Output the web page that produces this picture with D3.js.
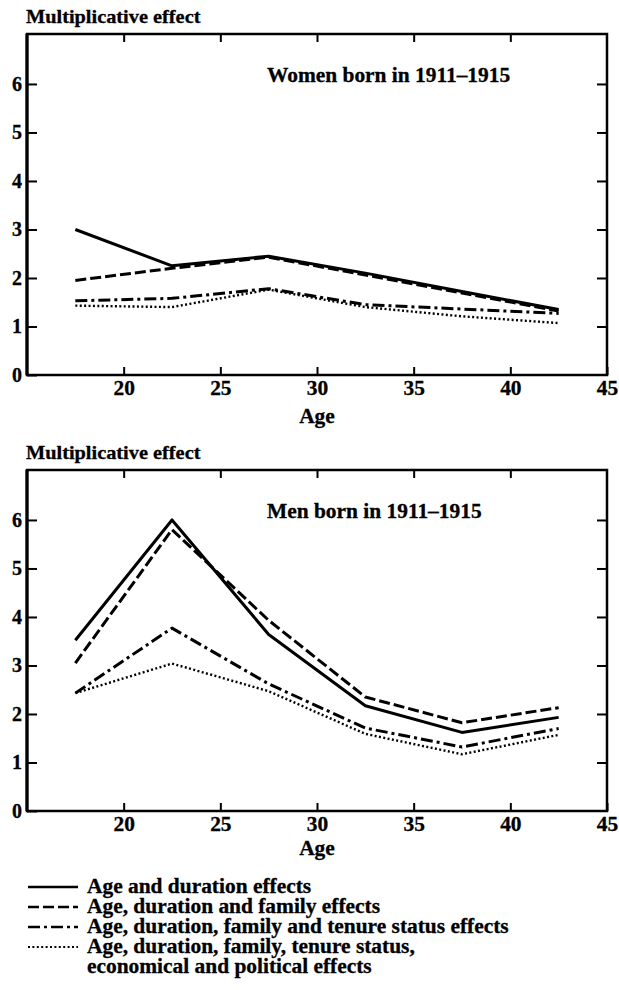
<!DOCTYPE html>
<html>
<head>
<meta charset="utf-8">
<title>Multiplicative effect by age</title>
<script src="https://cdn.jsdelivr.net/npm/d3@7"></script>
<style>
  body { margin: 0; background: #fff; }
  text { font-family: "Liberation Serif", "Times New Roman", serif; font-weight: bold; fill: #000;
         stroke: #000; stroke-width: 0.3px; }
  .tick line { stroke: #000; stroke-width: 2; }
  .domain { display: none; }
</style>
</head>
<body>
<script>
// data
const ages = [17.5, 22.5, 27.5, 32.5, 37.5, 42.5]
const xTicks = [20, 25, 30, 35, 40, 45]
const yTicks = [0, 1, 2, 3, 4, 5, 6]

const womenAgeDur       = [3.00, 2.25, 2.45, 2.10, 1.72, 1.35]
const womenAgeDurFam    = [1.95, 2.20, 2.43, 2.06, 1.69, 1.32]
const womenAgeDurFamTen = [1.53, 1.58, 1.78, 1.45, 1.36, 1.27]
const womenAll          = [1.43, 1.40, 1.76, 1.40, 1.21, 1.07]

const menAgeDur       = [3.52, 6.00, 3.64, 2.17, 1.62, 1.93]
const menAgeDurFam    = [3.05, 5.80, 3.93, 2.35, 1.82, 2.13]
const menAgeDurFamTen = [2.43, 3.77, 2.62, 1.71, 1.32, 1.70]
const menAll          = [2.43, 3.04, 2.47, 1.59, 1.17, 1.57]

const legendLabels = [
  "Age and duration effects",
  "Age, duration and family effects",
  "Age, duration, family and tenure status effects",
  "Age, duration, family, tenure status,",
  "economical and political effects"
]

const dashes = [null, "11,4", "12,4,3,4", "2,2.4"]
const widths = [3, 3, 3, 2.4]

const w = 619, h = 990
const plotH = 341
const x = d3.scaleLinear().domain([15, 45]).range([27, 607])

const svg = d3.select("body").append("svg")
  .attr("width", w).attr("height", h)

// scanned type is Times bold, a little wider than normal
const stretch = (sel, k) => sel.each(function() {
  const len = this.getComputedTextLength()
  d3.select(this).attr("textLength", len * k).attr("lengthAdjust", "spacingAndGlyphs")
})

const drawPanel = (top, title, series, ageGap) => {
  const y = d3.scaleLinear().domain([0, 7.03]).range([top + plotH, top])
  const g = svg.append("g")
  const y0 = y(0)

  g.append("text")
    .attr("x", 26).attr("y", top - 11)
    .style("font-size", "19px")
    .text("Multiplicative effect")
    .call(stretch, 1.07)

  g.append("g").attr("transform", `translate(${x.range()[0]},0)`)
    .call(d3.axisLeft(y).tickValues(yTicks).tickSize(-10).tickPadding(5).tickFormat(d3.format("d")))
    .selectAll("text").style("font-size", "20px").attr("fill", "#000")

  g.append("g").attr("transform", `translate(${x.range()[1]},0)`)
    .call(d3.axisRight(y).tickValues(yTicks.slice(1)).tickSize(-10).tickFormat(""))

  g.append("g").attr("transform", `translate(0,${y0})`)
    .call(d3.axisBottom(x).tickValues(xTicks).tickSize(-8).tickPadding(6).tickFormat(d3.format("d")))
    .selectAll("text").style("font-size", "20px").attr("fill", "#000")
    .call(stretch, 1.07)

  g.append("g").attr("transform", `translate(0,${top})`)
    .call(d3.axisTop(x).tickValues(xTicks.slice(0, 5)).tickSize(-8).tickFormat(""))

  g.append("rect")
    .attr("x", x.range()[0]).attr("y", top)
    .attr("width", x.range()[1] - x.range()[0]).attr("height", y0 - top)
    .attr("fill", "none").attr("stroke", "#000").attr("stroke-width", 2.5)

  g.append("line")
    .attr("x1", x.range()[0]).attr("x2", x.range()[0])
    .attr("y1", top).attr("y2", y0)
    .attr("stroke", "#000").attr("stroke-width", 3.2)

  g.append("text")
    .attr("x", (x.range()[0] + x.range()[1]) / 2).attr("y", y0 + ageGap)
    .attr("text-anchor", "middle")
    .style("font-size", "20px")
    .text("Age")
    .call(stretch, 1.07)

  g.append("text")
    .attr("x", 267).attr("y", top + 48)
    .style("font-size", "20px")
    .text(title)
    .call(stretch, 1.07)

  const line = d3.line()
    .x((d, i) => x(ages[i]))
    .y(d => y(d))

  g.selectAll(".series")
    .data(series)
    .enter()
      .append("path")
      .classed("series", true)
      .attr("d", d => line(d))
      .attr("fill", "none")
      .attr("stroke", "#000")
      .attr("stroke-width", (d, i) => widths[i])
      .attr("stroke-dasharray", (d, i) => dashes[i])
      .attr("stroke-linejoin", "round")
}

drawPanel(34, "Women born in 1911\u20131915",
  [womenAgeDur, womenAgeDurFam, womenAgeDurFamTen, womenAll], 48)
drawPanel(470, "Men born in 1911\u20131915",
  [menAgeDur, menAgeDurFam, menAgeDurFamTen, menAll], 44)

// legend
const legendY = d3.scalePoint().domain(d3.range(legendLabels.length)).range([893, 973])
const legend = svg.append("g")

legend.selectAll(".key")
  .data(dashes)
  .enter()
    .append("line")
    .classed("key", true)
    .attr("x1", 28).attr("x2", 78)
    .attr("y1", (d, i) => legendY(i) - 6)
    .attr("y2", (d, i) => legendY(i) - 6)
    .attr("stroke", "#000")
    .attr("stroke-width", (d, i) => widths[i] - 0.5)
    .attr("stroke-dasharray", d => d)

legend.selectAll(".key-label")
  .data(legendLabels)
  .enter()
    .append("text")
    .classed("key-label", true)
    .attr("x", 87)
    .attr("y", (d, i) => legendY(i))
    .style("font-size", "20px")
    .text(d => d)
    .call(stretch, 1.07)
</script>
</body>
</html>
